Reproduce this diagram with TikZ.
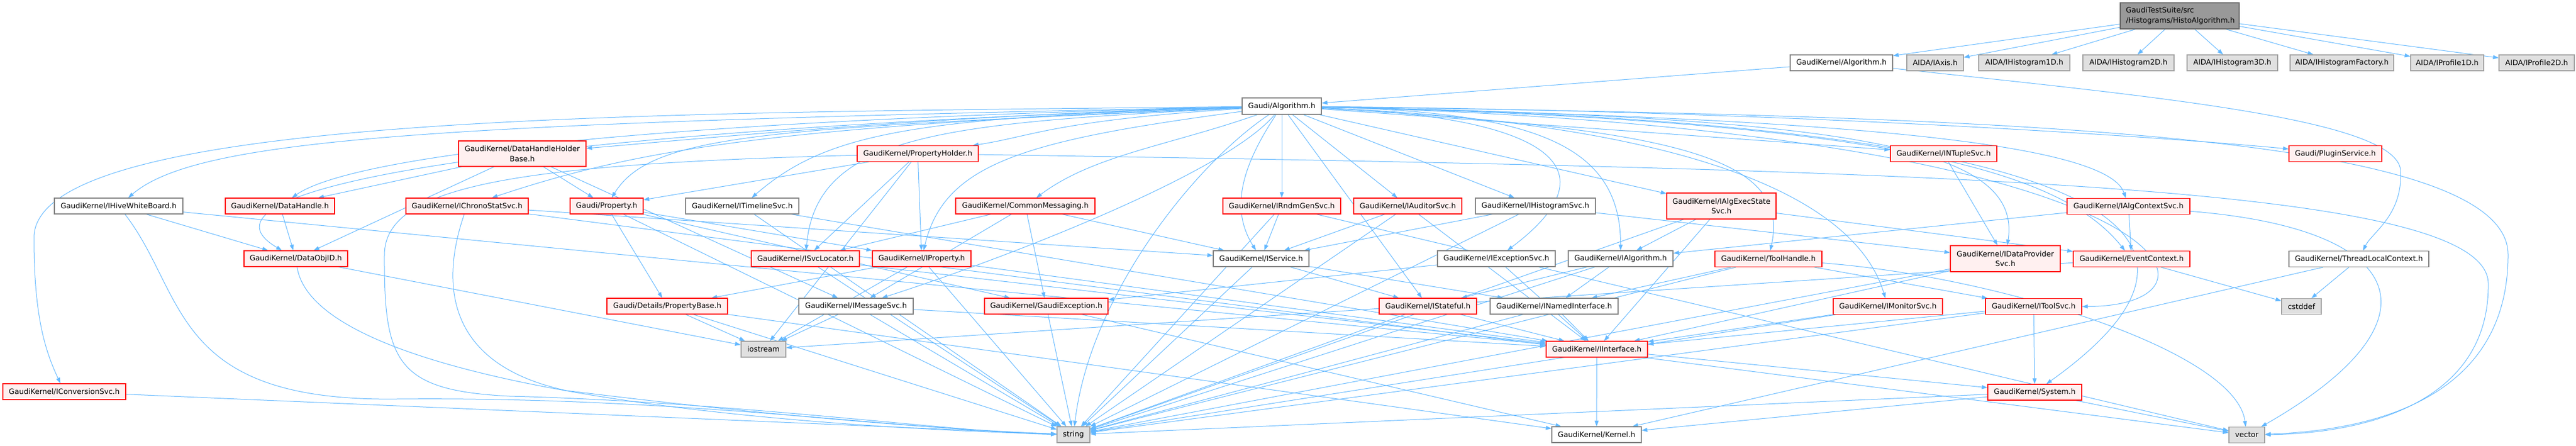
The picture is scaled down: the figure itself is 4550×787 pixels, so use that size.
\documentclass[tikz,border=0pt]{standalone}
\usepackage{fontspec}
\setmainfont{DejaVu Sans}
\usetikzlibrary{arrows.meta}
\definecolor{edgec}{HTML}{63B8FF}
\definecolor{redfill}{HTML}{FFF0F0}
\definecolor{wborder}{HTML}{808080}
\definecolor{gfill}{HTML}{E0E0E0}
\definecolor{gborder}{HTML}{A0A0A0}
\definecolor{topfill}{HTML}{999999}
\definecolor{topborder}{HTML}{666666}
\pgfdeclarelayer{bg}
\pgfsetlayers{bg,main}
\tikzset{
  box/.style={draw, line width=1.2pt, inner sep=0pt, minimum height=28pt, text=black,
    font=\fontsize{13}{17.5}\selectfont},
  rbox/.style={box, draw=red, fill=redfill},
  wbox/.style={box, draw=wborder, fill=white},
  gbox/.style={box, draw=gborder, fill=gfill},
  topbox/.style={box, draw=topborder, fill=topfill},
  edge/.style={draw=edgec, line width=1pt, -{Triangle[length=10pt,width=7pt]}}
}
\newcommand\cedge[4]{\draw[edge] (#1) .. controls +(#3) and +(#4) .. (#2);}
\begin{document}
\begin{tikzpicture}[x=1pt,y=-1pt]
\useasboundingbox (0,0) rectangle (4550,787);
% row 0/1
\node[topbox, minimum width=210, minimum height=46, text width=190, align=left] (HA) at (3850,28) {GaudiTestSuite/src\\/Histograms/HistoAlgorithm.h};
\node[wbox, minimum width=181] (GKA) at (3252.5,111) {GaudiKernel/Algorithm.h};
\node[gbox, minimum width=100] (AX) at (3418,111) {AIDA/IAxis.h};
\node[gbox, minimum width=161] (H1) at (3575.5,111) {AIDA/IHistogram1D.h};
\node[gbox, minimum width=161] (H2) at (3759.5,111) {AIDA/IHistogram2D.h};
\node[gbox, minimum width=160] (H3) at (3943,111) {AIDA/IHistogram3D.h};
\node[gbox, minimum width=183] (HF) at (4136.5,111) {AIDA/IHistogramFactory.h};
\node[gbox, minimum width=129] (P1) at (4322.5,111) {AIDA/IProfile1D.h};
\node[gbox, minimum width=133] (P2) at (4480.5,111) {AIDA/IProfile2D.h};
% row 2
\node[wbox, minimum width=140, minimum height=29] (GA) at (2264,187.5) {Gaudi/Algorithm.h};
% row 3
\node[rbox, minimum width=225, minimum height=45, align=center] (DHHB) at (922.5,271.5) {GaudiKernel/DataHandleHolder\\Base.h};
\node[rbox, minimum width=214] (PH) at (1621,271.5) {GaudiKernel/PropertyHolder.h};
\node[rbox, minimum width=188] (NT) at (3433,271.5) {GaudiKernel/INTupleSvc.h};
\node[rbox, minimum width=164] (PS) at (4125,271.5) {Gaudi/PluginService.h};
% row 4
\node[wbox, minimum width=227] (HWB) at (209.5,364) {GaudiKernel/IHiveWhiteBoard.h};
\node[rbox, minimum width=193] (DH) at (494.5,364) {GaudiKernel/DataHandle.h};
\node[rbox, minimum width=216] (CSS) at (825,364) {GaudiKernel/IChronoStatSvc.h};
\node[rbox, minimum width=129] (PR) at (1071.5,364) {Gaudi/Property.h};
\node[wbox, minimum width=200] (TL) at (1311,364) {GaudiKernel/ITimelineSvc.h};
\node[rbox, minimum width=246] (CM) at (1811,364) {GaudiKernel/CommonMessaging.h};
\node[rbox, minimum width=208] (RG) at (2264,364) {GaudiKernel/IRndmGenSvc.h};
\node[rbox, minimum width=191] (AU) at (2486.5,364) {GaudiKernel/IAuditorSvc.h};
\node[wbox, minimum width=212] (HS) at (2712,364) {GaudiKernel/IHistogramSvc.h};
\node[rbox, minimum width=193, minimum height=46, align=center] (AES) at (3040.5,364) {GaudiKernel/IAlgExecState\\Svc.h};
\node[rbox, minimum width=217] (ACS) at (3759.5,364.5) {GaudiKernel/IAlgContextSvc.h};
% row 5
\node[rbox, minimum width=183] (DOI) at (522.5,457) {GaudiKernel/DataObjID.h};
\node[rbox, minimum width=191] (SL) at (1422.5,457) {GaudiKernel/ISvcLocator.h};
\node[rbox, minimum width=174] (IP) at (1628,457) {GaudiKernel/IProperty.h};
\node[wbox, minimum width=169] (IS) at (2227.5,457) {GaudiKernel/IService.h};
\node[wbox, minimum width=208] (ES) at (2643,457) {GaudiKernel/IExceptionSvc.h};
\node[wbox, minimum width=185] (IA) at (2862.5,457) {GaudiKernel/IAlgorithm.h};
\node[rbox, minimum width=189] (TH) at (3123.5,457.5) {GaudiKernel/ToolHandle.h};
\node[rbox, minimum width=194, minimum height=46, align=center] (DPS) at (3542,457) {GaudiKernel/IDataProvider\\Svc.h};
\node[rbox, minimum width=206] (EC) at (3765,457.5) {GaudiKernel/EventContext.h};
\node[wbox, minimum width=247] (TLC) at (4166.5,457.5) {GaudiKernel/ThreadLocalContext.h};
% row 6
\node[rbox, minimum width=213] (PB) at (1178.5,541) {Gaudi/Details/PropertyBase.h};
\node[wbox, minimum width=202] (MS) at (1512,541) {GaudiKernel/IMessageSvc.h};
\node[rbox, minimum width=218] (GE) at (1848,541) {GaudiKernel/GaudiException.h};
\node[rbox, minimum width=172] (ST) at (2522,541) {GaudiKernel/IStateful.h};
\node[wbox, minimum width=226] (NI) at (2745,541) {GaudiKernel/INamedInterface.h};
\node[rbox, minimum width=193] (MON) at (3334.5,541.5) {GaudiKernel/IMonitorSvc.h};
\node[rbox, minimum width=170] (TS) at (3592,541.5) {GaudiKernel/IToolSvc.h};
\node[gbox, minimum width=70] (CD) at (4065,541.5) {cstddef};
% row 7
\node[gbox, minimum width=79] (IOS) at (1348.5,617) {iostream};
\node[rbox, minimum width=179] (II) at (2820.5,617) {GaudiKernel/IInterface.h};
% row 8
\node[rbox, minimum width=217] (CS) at (113.5,692) {GaudiKernel/IConversionSvc.h};
\node[rbox, minimum width=166] (SYS) at (3594,693) {GaudiKernel/System.h};
% row 9
\node[gbox, minimum width=58] (STR) at (1896,768) {string};
\node[wbox, minimum width=158] (KER) at (2820,768) {GaudiKernel/Kernel.h};
\node[gbox, minimum width=63] (VEC) at (3968.5,768.5) {vector};

\begin{pgfonlayer}{bg}
\foreach \a/\b in {HA/GKA, HA/AX, HA/H1, HA/H2, HA/H3, HA/HF, HA/P1, HA/P2,
  GKA/GA,
  GA/RG, GA/AU, GA/HS, GA/ST, GA/AES, GA/NT,
  HWB/DOI, HWB/II,
  DH/DOI,
  DHHB/DH, DHHB/DOI, DHHB/PR, DHHB/MS,
  DOI/IOS,
  CSS/IS, CSS/VEC,
  PR/PB, PR/IP, PR/STR, PR/GE,
  PB/IOS, PB/STR, PB/KER,
  PH/PR, PH/IOS, PH/SL, PH/IP,
  TL/II, TL/STR,
  CM/SL, CM/MS, CM/GE, CM/IS,
  RG/IS, RG/STR, RG/VEC,
  AU/IS, AU/STR, AU/II,
  HS/DPS, HS/IS, HS/STR,
  AES/IA, AES/EC, AES/II, AES/STR,
  ACS/IA, ACS/EC,
  NT/DPS,
  DPS/II, DPS/STR,
  TH/TS, TH/NI, TH/STR,
  MON/II, MON/STR,
  TS/SYS, TS/II, TS/STR,
  SYS/KER, SYS/STR, SYS/VEC,
  EC/CD, EC/IOS,
  TLC/CD, TLC/KER,
  IS/STR, IS/ST, IS/NI,
  ES/GE, ES/II,
  IA/ST, IA/NI, IA/STR,
  ST/II, ST/STR,
  NI/II, NI/STR,
  II/KER, II/SYS,
  MS/IOS, MS/STR, MS/II,
  GE/STR, GE/KER,
  SL/II, SL/STR,
  IP/PB, IP/II, IP/STR, IP/IOS,
  CS/STR}
  {\draw[edge] (\a) -- (\b);}
% curved edges out of Gaudi/Algorithm.h, to the left
\cedge{GA}{HWB}{-1500,30}{140,-120}
\cedge{GA}{DOI}{-1300,40}{-220,-130}
\cedge{GA}{DH}{-1100,25}{130,-90}
\cedge{GA}{DHHB}{-600,15}{300,-25}
\cedge{GA}{CSS}{-900,35}{300,-100}
\cedge{GA}{PR}{-900,40}{80,-130}
\cedge{GA}{TL}{-650,20}{150,-130}
\cedge{GA}{PH}{-400,25}{200,-30}
\cedge{GA}{SL}{-600,30}{20,-220}
\cedge{GA}{IP}{-450,60}{40,-170}
\cedge{GA}{CM}{-200,70}{120,-90}
\cedge{GA}{MS}{-100,120}{250,-80}
\cedge{GA}{STR}{-150,100}{30,-250}
\cedge{GA}{IS}{-80,120}{-50,-80}
% to the right
\cedge{GA}{ES}{500,20}{200,-150}
\cedge{GA}{IA}{450,10}{0,-200}
\cedge{GA}{TH}{700,40}{40,-180}
\cedge{GA}{DPS}{1000,20}{30,-200}
\cedge{GA}{MON}{700,30}{-60,-200}
\cedge{GA}{TS}{1600,40}{380,0}
\cedge{GA}{SYS}{1600,30}{350,-250}
\cedge{GA}{ACS}{900,20}{-40,-120}
\cedge{GA}{EC}{1100,25}{-120,-150}
\cedge{GA}{PS}{1000,10}{-200,-20}
\cedge{ACS}{VEC}{500,40}{350,-200}
\cedge{TH}{VEC}{400,30}{-20,-150}
% long curves
\draw[edge] (GA) .. controls (1200,200) and (60,195) .. (60,420) .. controls (60,560) and (80,620) .. (CS);
\draw[edge] (GA) .. controls (3500,205) and (4430,230) .. (4430,450) .. controls (4430,700) and (4200,760) .. (VEC);
\draw[edge] (PH) .. controls (3500,300) and (4390,330) .. (4395,500) .. controls (4398,700) and (4200,765) .. (VEC);
\draw[edge] (GKA) .. controls (3800,170) and (4230,210) .. (4240,300) .. controls (4245,380) and (4190,410) .. (TLC);
\draw[edge] (HWB) .. controls (330,520) and (300,710) .. (700,705) .. controls (1200,700) and (1600,760) .. (STR);
\draw[edge] (CSS) .. controls (785,480) and (770,640) .. (1000,690) .. controls (1400,740) and (1700,760) .. (STR);
\draw[edge] (PH) .. controls (900,290) and (680,330) .. (679,450) .. controls (678,640) and (700,690) .. (900,700) .. controls (1300,710) and (1700,765) .. (STR);
\cedge{DOI}{STR}{30,200}{-700,-20}
\end{pgfonlayer}
\end{tikzpicture}
\end{document}
